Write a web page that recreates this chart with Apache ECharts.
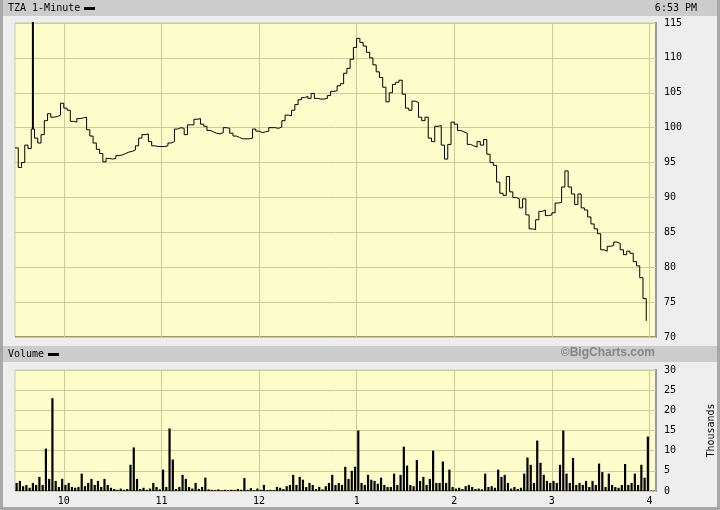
<!DOCTYPE html>
<html><head><meta charset="utf-8">
<script src="https://cdn.jsdelivr.net/npm/echarts@6/dist/echarts.min.js"></script>
<style>html,body{margin:0;padding:0;background:#eeeeee}#c{width:720px;height:510px}</style>
</head><body><div id="c"></div>
<script>
// Time axis: minutes after 9:30
const hourMarks = [30, 90, 150, 210, 270, 330, 390];
const hourLabels = ['10', '11', '12', '1', '2', '3', '4'];
const priceTicks = [70, 75, 80, 85, 90, 95, 100, 105, 110, 115];
const volumeTicks = [0, 5, 10, 15, 20, 25, 30];
const priceStepMinutes = 2;
// TZA price, every 2 minutes from 9:30
const priceValues = [
  97.1, 94.3, 95, 97.5, 97, 99.8, 98.5, 97.8, 99, 101,
  102, 101.5, 101.6, 101.8, 103.5, 102.8, 102.5, 100.9, 100.8, 101.3,
  101.4, 101.5, 99.7, 98.8, 97.8, 96.9, 96.3, 95.1, 95.6, 95.5,
  95.6, 96, 96.1, 96.3, 96.5, 96.6, 96.8, 97.4, 98.5, 99,
  99.1, 98, 97.4, 97.3, 97.3, 97.3, 97.4, 97.8, 98, 99.8,
  100, 99.9, 99, 100.4, 100.4, 101.2, 101.3, 100.5, 100.2, 99.6,
  99.4, 99.2, 99.1, 99.3, 100, 99.9, 99.2, 98.8, 98.6, 98.4,
  98.4, 98.4, 98.5, 99.8, 99.5, 99.3, 99.4, 99.5, 100, 100,
  99.9, 100.1, 101, 101.8, 101.7, 102.5, 103.3, 104, 104.3, 104.5,
  104.2, 104.9, 104.2, 104.1, 104.1, 104.2, 104.6, 105.2, 105.3, 106,
  106.3, 107.8, 108.5, 109.8, 111.5, 112.8, 112.2, 111.7, 110.8, 110,
  109, 108, 107.2, 105.8, 103.7, 105, 106.2, 106.5, 106.8, 104.8,
  102.8, 102.5, 103.8, 103.6, 101.5, 101, 101.5, 98.5, 98, 100.2,
  100.3, 97.5, 95.5, 97.6, 100.8, 100.5, 99.6, 99.4, 99.2, 97.6,
  97.4, 97.2, 98, 97.5, 98.3, 96.2, 95, 94.6, 92.2, 90.6,
  90.3, 93, 90.8, 90, 89.8, 88.5, 89.8, 87.5, 85.5, 85.4,
  86.8, 88, 88.2, 87.4, 87.5, 87.8, 89.2, 89.3, 91.5, 93.8,
  91.5, 90.5, 89, 90.5, 88.5, 88.2, 87.2, 86.2, 85.5, 84.8,
  82.5, 82.3, 83, 83.1, 83.6, 83.4, 82.5, 81.8, 82.3, 82,
  80.8, 80.2, 78.5, 75.5, 72.3
];
// bad tick spike at 9:41
const spikeMinute = 11;
const spikeLow = 99.8;
const spikeHigh = 117;
// Volume in thousands, 2-minute buckets from 9:30
const volumeValues = [
  2, 2.5, 1.2, 1.5, 0.8, 2, 1.5, 3.5, 1.5, 10.5,
  3, 23, 2.5, 1, 3, 1.5, 2, 1, 0.8, 1,
  4.3, 1.2, 2, 3, 1.5, 2.5, 1, 3, 1.5, 0.8,
  0.5, 0.3, 0.6, 0.3, 0.5, 6.5, 10.8, 3, 0.5, 0.8,
  0.3, 0.6, 2, 1, 0.4, 5.3, 1, 15.5, 7.8, 0.5,
  1, 4, 3, 1, 0.6, 2, 0.5, 1, 3.3, 0.4,
  0.3, 0.2, 0.4, 0.2, 0.3, 0.2, 0.3, 0.2, 0.5, 0.3,
  3.2, 0.3, 0.7, 0.2, 0.6, 0.3, 1.5, 0.2, 0.3, 0.2,
  1, 0.8, 0.5, 1.2, 1.5, 4, 1.5, 3.5, 2.8, 1,
  2, 1.5, 0.5, 1, 0.4, 1.2, 2, 4, 1.5, 2,
  1.5, 6, 3, 5, 6, 15, 2, 1.5, 4, 2.8,
  2.5, 1.8, 3.3, 1.5, 1, 1, 4.3, 1.5, 4, 11,
  6.3, 1.5, 1.2, 7.7, 2.5, 3.5, 1.5, 3, 10, 2,
  2, 7.3, 2, 5.3, 1, 0.6, 0.8, 0.5, 1.2, 1.5,
  1, 0.5, 0.6, 0.4, 4.3, 1, 1.2, 0.8, 5.3, 3.5,
  4, 2, 0.6, 1, 0.5, 0.8, 4.3, 8.3, 6.5, 2,
  12.5, 7, 4, 2.5, 2, 2.5, 2, 6.5, 15, 4.3,
  2, 8.2, 1.5, 2, 1.5, 2.5, 1, 2.5, 1.5, 6.8,
  4.7, 1, 4.3, 1.5, 1, 0.8, 1.5, 6.7, 1.5, 2,
  4.3, 1.5, 6.5, 3.3, 13.5
];

const priceData = priceValues.map((v, i) => [i * priceStepMinutes, v]);
const volumeData = volumeValues.map((v, i) => [i * priceStepMinutes + 1, v]);

const FONT = '"DejaVu Sans Mono", monospace';
const gridColor = '#cccc99';
const plotBg = '#fdfdcc';

const chart = echarts.init(document.getElementById('c'), null, {renderer: 'canvas'});
const xCommon = {
  type: 'value', min: 0, max: 394,
  axisLine: {show: false},
  axisTick: {show: false, customValues: hourMarks},
  splitLine: {show: true, lineStyle: {color: gridColor, width: 1}},
};
chart.setOption({
  animation: false,
  backgroundColor: '#eeeeee',
  grid: [
    {left: 15, right: 64, top: 23, height: 314, show: true, outerBoundsMode: 'none', containLabel: false,
      backgroundColor: plotBg, borderColor: '#c8c8b0', borderWidth: 1},
    {left: 15, right: 64, top: 370, height: 121, show: true, outerBoundsMode: 'none', containLabel: false,
      backgroundColor: plotBg, borderColor: '#c8c8b0', borderWidth: 1}
  ],
  xAxis: [
    Object.assign({}, xCommon, {gridIndex: 0, axisLabel: {show: false, customValues: hourMarks}}),
    Object.assign({}, xCommon, {gridIndex: 1,
      axisLabel: {show: true, customValues: hourMarks, margin: 5, color: '#000', fontFamily: FONT, fontSize: 10,
        formatter: v => hourLabels[hourMarks.indexOf(v)]}})
  ],
  yAxis: [
    {gridIndex: 0, type: 'value', position: 'right', min: priceTicks[0], max: priceTicks[priceTicks.length - 1], interval: 5,
      axisLine: {show: false}, axisTick: {show: false},
      axisLabel: {margin: 8, color: '#000', fontFamily: FONT, fontSize: 10},
      splitLine: {show: true, lineStyle: {color: gridColor}}},
    {gridIndex: 1, type: 'value', position: 'right', min: volumeTicks[0], max: volumeTicks[volumeTicks.length - 1], interval: 5,
      axisLine: {show: false}, axisTick: {show: false},
      axisLabel: {margin: 8, color: '#000', fontFamily: FONT, fontSize: 10},
      splitLine: {show: true, lineStyle: {color: gridColor}},
      name: 'Thousands', nameLocation: 'middle', nameRotate: 90, nameGap: 50,
      nameTextStyle: {color: '#000', fontFamily: FONT, fontSize: 10}}
  ],
  graphic: [
    {type: 'rect', shape: {x: 3, y: 0, width: 714, height: 16}, style: {fill: '#cccccc'}, z: -1},
    {type: 'rect', shape: {x: 3, y: 346, width: 714, height: 16}, style: {fill: '#cccccc'}, z: -1},
    {type: 'rect', shape: {x: 0, y: 0, width: 3, height: 510}, style: {fill: '#a8a8a8'}},
    {type: 'rect', shape: {x: 717, y: 0, width: 3, height: 510}, style: {fill: '#a8a8a8'}},
    {type: 'rect', shape: {x: 0, y: 507, width: 720, height: 3}, style: {fill: '#a8a8a8'}},
    {type: 'text', left: 8, top: 3, style: {text: 'TZA 1-Minute', font: '10px ' + FONT, fill: '#000'}},
    {type: 'rect', shape: {x: 84, y: 7, width: 11, height: 3}, style: {fill: '#000'}},
    {type: 'text', right: 23, top: 3, style: {text: '6:53 PM', font: '10px ' + FONT, fill: '#000'}},
    {type: 'text', left: 8, top: 349, style: {text: 'Volume', font: '10px ' + FONT, fill: '#000'}},
    {type: 'rect', shape: {x: 48, y: 353, width: 11, height: 3}, style: {fill: '#000'}},
    {type: 'text', right: 65, top: 347, style: {text: '©BigCharts.com', font: 'bold 12px "Liberation Sans", Arial, sans-serif', fill: '#858585'}},
    {type: 'rect', shape: {x: 15, y: 336, width: 641, height: 1}, style: {fill: '#999977'}},
    {type: 'rect', shape: {x: 655, y: 22, width: 2, height: 316}, style: {fill: '#999999'}},
    {type: 'rect', shape: {x: 15, y: 490, width: 641, height: 2}, style: {fill: '#888888'}},
    {type: 'rect', shape: {x: 655, y: 369, width: 2, height: 123}, style: {fill: '#999999'}}
  ],
  series: [
    {type: 'line', xAxisIndex: 0, yAxisIndex: 0, data: priceData, step: 'end', showSymbol: false,
      lineStyle: {color: '#000', width: 1}, clip: true, z: 3},
    {type: 'line', xAxisIndex: 0, yAxisIndex: 0, data: [[spikeMinute, spikeLow], [spikeMinute, spikeHigh]], showSymbol: false,
      lineStyle: {color: '#000', width: 2}, clip: true, z: 3},
    {type: 'bar', xAxisIndex: 1, yAxisIndex: 1, data: volumeData, barWidth: 2.2,
      itemStyle: {color: '#000'}, z: 3}
  ]
});
</script></body></html>
